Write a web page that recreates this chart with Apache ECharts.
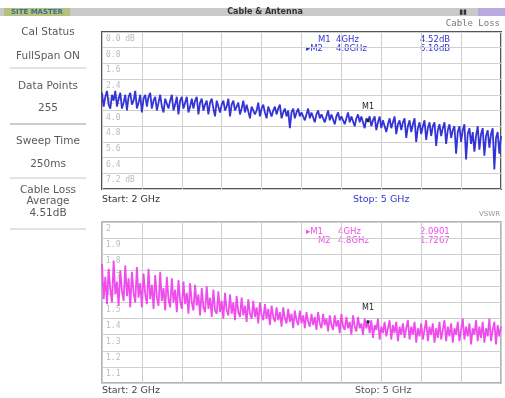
<!DOCTYPE html>
<html>
<head>
<meta charset="utf-8">
<script src="https://cdn.jsdelivr.net/npm/echarts@6/dist/echarts.min.js"></script>
<style>
  html, body { margin: 0; padding: 0; background: #fff; }
  #main { width: 505px; height: 398px; }
</style>
</head>
<body>
<div id="main"></div>
<script>
// 2 GHz .. 5 GHz, one grid line every 0.3 GHz
const freqTicks = ['2', '2.3', '2.6', '2.9', '3.2', '3.5', '3.8', '4.1', '4.4', '4.7', '5'];
// cable loss scale, 0.8 dB / div, drawn downwards
const lossTicks = ['0.0 dB', '0.8', '1.6', '2.4', '3.2', '4.0', '4.8', '5.6', '6.4', '7.2 dB'];
// VSWR scale, 0.1 / div
const vswrTicks = ['2', '1.9', '1.8', '1.7', '1.6', '1.5', '1.4', '1.3', '1.2', '1.1'];

// cable loss trace (dB), 2..5 GHz
const lossData = [
  3.1, 3.8, 3.3, 3.0, 3.7, 3.9, 3.2, 3.5, 3.0, 3.8,
  3.4, 3.1, 3.9, 3.6, 3.2, 4.0, 3.3, 3.1, 3.7, 3.5,
  3.0, 3.9, 3.6, 3.2, 4.1, 3.4, 3.2, 3.8, 3.3, 3.1,
  3.9, 3.5, 3.3, 4.0, 3.6, 3.2, 3.8, 4.1, 3.4, 3.3,
  3.9, 3.5, 3.2, 4.0, 3.7, 3.3, 4.2, 3.5, 3.3, 3.9,
  3.6, 3.3, 4.1, 3.8, 3.4, 3.9, 3.5, 3.3, 4.2, 3.6,
  3.4, 4.0, 3.7, 3.5, 4.2, 3.6, 3.4, 3.9, 4.3, 3.5,
  3.5, 4.1, 3.7, 3.5, 4.0, 3.8, 3.4, 4.3, 3.7, 3.5,
  4.0, 3.8, 3.6, 4.2, 3.9, 3.5, 4.1, 3.7, 3.6, 4.4,
  3.8, 3.7, 4.2, 4.0, 3.6, 4.3, 3.9, 3.7, 4.1, 4.4,
  3.8, 3.9, 4.3, 4.0, 3.8, 4.2, 3.9, 3.7, 4.4, 4.1,
  3.9, 4.3, 4.0, 4.9, 4.1, 3.9, 4.4, 4.1, 3.9, 4.3,
  4.1, 4.0, 4.5, 4.2, 3.9, 4.4, 4.1, 4.0, 4.6, 4.2,
  4.0, 4.4, 4.2, 4.1, 4.6, 4.3, 4.0, 4.5, 4.2, 4.1,
  4.7, 4.3, 4.1, 4.5, 4.3, 4.2, 4.7, 4.4, 4.1, 4.6,
  4.3, 4.2, 4.8, 4.4, 4.2, 4.6, 4.3, 4.2, 4.9, 4.4,
  4.52, 4.3, 4.8, 4.5, 4.3, 5.0, 4.6, 4.3, 4.9, 4.5,
  4.4, 5.1, 4.7, 4.4, 4.9, 4.6, 4.3, 5.2, 4.7, 4.5,
  5.0, 4.6, 4.4, 5.4, 4.8, 4.5, 5.1, 4.7, 4.4, 5.6,
  4.9, 4.6, 5.2, 4.8, 4.5, 5.5, 4.9, 4.6, 5.3, 4.8,
  4.6, 5.8, 5.0, 4.7, 5.3, 4.9, 4.6, 5.7, 5.0, 4.7,
  5.4, 5.0, 4.8, 6.2, 5.1, 4.8, 5.6, 5.0, 4.7, 6.5,
  5.2, 4.9, 5.7, 5.1, 6.10, 5.3, 4.8, 6.0, 5.2, 4.9,
  6.3, 5.3, 5.0, 5.9, 5.2, 4.9, 7.0, 5.4, 5.1, 6.2,
  5.3
];

// VSWR trace, 2..5 GHz
const vswrData = [
  1.74, 1.52, 1.66, 1.49, 1.71, 1.58, 1.50, 1.76, 1.55, 1.63,
  1.48, 1.70, 1.57, 1.51, 1.73, 1.54, 1.65, 1.47, 1.69, 1.56,
  1.50, 1.72, 1.53, 1.62, 1.47, 1.68, 1.55, 1.49, 1.71, 1.52,
  1.61, 1.46, 1.67, 1.53, 1.48, 1.69, 1.51, 1.59, 1.45, 1.66,
  1.52, 1.47, 1.65, 1.50, 1.58, 1.44, 1.64, 1.51, 1.46, 1.63,
  1.49, 1.56, 1.43, 1.62, 1.50, 1.45, 1.61, 1.48, 1.55, 1.42,
  1.59, 1.47, 1.44, 1.60, 1.46, 1.53, 1.41, 1.58, 1.45, 1.43,
  1.57, 1.44, 1.51, 1.40, 1.56, 1.45, 1.42, 1.55, 1.43, 1.50,
  1.39, 1.54, 1.44, 1.41, 1.53, 1.42, 1.48, 1.38, 1.52, 1.43,
  1.40, 1.51, 1.41, 1.47, 1.37, 1.50, 1.42, 1.39, 1.49, 1.40,
  1.46, 1.36, 1.48, 1.41, 1.38, 1.47, 1.39, 1.44, 1.35, 1.47,
  1.40, 1.37, 1.46, 1.38, 1.43, 1.34, 1.45, 1.39, 1.36, 1.45,
  1.37, 1.42, 1.34, 1.44, 1.38, 1.35, 1.43, 1.36, 1.41, 1.33,
  1.44, 1.37, 1.34, 1.43, 1.36, 1.40, 1.32, 1.42, 1.36, 1.33,
  1.42, 1.35, 1.39, 1.31, 1.43, 1.35, 1.33, 1.41, 1.34, 1.38,
  1.30, 1.42, 1.35, 1.32, 1.41, 1.34, 1.37, 1.30, 1.40, 1.34,
  1.38, 1.31, 1.39, 1.28, 1.36, 1.33, 1.40, 1.27, 1.35, 1.31,
  1.38, 1.29, 1.34, 1.39, 1.27, 1.36, 1.31, 1.38, 1.26, 1.35,
  1.30, 1.37, 1.28, 1.34, 1.39, 1.27, 1.35, 1.30, 1.38, 1.25,
  1.34, 1.29, 1.37, 1.27, 1.33, 1.39, 1.26, 1.35, 1.30, 1.37,
  1.25, 1.34, 1.28, 1.38, 1.27, 1.33, 1.39, 1.26, 1.35, 1.29,
  1.37, 1.25, 1.34, 1.30, 1.38, 1.26, 1.33, 1.40, 1.27, 1.35,
  1.29, 1.37, 1.24, 1.34, 1.30, 1.39, 1.26, 1.35, 1.28, 1.38,
  1.25, 1.34, 1.29, 1.40, 1.26, 1.33, 1.38, 1.24, 1.36, 1.29,
  1.35
];

// markers: index into the traces (4 GHz, 4.8 GHz), readout texts
const markerIdx = [160, 224];
const markerFreqs = ['4GHz', '4.8GHz'];
const lossMarkers = ['4.52dB', '6.10dB'];
const vswrMarkers = ['2.0901', '1.7267'];

// left status panel
const sideLabels = ['Cal Status', 'FullSpan ON', 'Data Points', '255', 'Sweep Time', '250ms', 'Cable Loss', 'Average', '4.51dB'];

const BLUE = '#3434d6';
const PINK = '#ee4cec';
const FONT = 'DejaVu Sans';

const chart = echarts.init(document.getElementById('main'));
const cats = lossData.map((_, i) => i);
const step = (cats.length - 1) / (freqTicks.length - 1);

function xAxisFor(gridIndex) {
  return {
    type: 'category', gridIndex: gridIndex, data: cats, boundaryGap: false,
    axisLine: { show: false }, axisTick: { show: false }, axisLabel: { show: false },
    splitLine: { show: true, interval: (i) => i % step === 0, lineStyle: { color: '#cfcfcf', width: 1 } }
  };
}

function txt(x, y, text, opt) {
  return {
    type: 'text', x: x, y: y, silent: true,
    style: Object.assign({ text: text, fontFamily: FONT, fontSize: 9, fill: '#555', align: 'left', verticalAlign: 'middle' }, opt || {})
  };
}

const graphics = [];
// top status bar
graphics.push({ type: 'rect', shape: { x: 0, y: 8, width: 505, height: 8 }, style: { fill: '#c9c9c9' } });
graphics.push({ type: 'rect', shape: { x: 4, y: 8, width: 66, height: 8 }, style: { fill: '#b7c07a' } });
graphics.push(txt(37, 12, 'SITE MASTER', { align: 'center', fontSize: 7, fontWeight: 'bold', fill: '#3a6e9a' }));
graphics.push(txt(265, 12, 'Cable & Antenna', { align: 'center', fontSize: 8, fontWeight: 'bold', fill: '#333' }));
graphics.push({ type: 'rect', shape: { x: 478, y: 8, width: 27, height: 8 }, style: { fill: '#b8a9de' } });
graphics.push(txt(463, 12, '▮▮', { align: 'center', fontSize: 7, fill: '#333' }));

// left panel
const sideY = [32, 56, 86, 108, 141, 164, 190, 201, 213];
sideLabels.forEach((s, i) => {
  graphics.push(txt(48, sideY[i], s, { align: 'center', fontSize: 10.5, fill: '#5a5a5a' }));
});
[68, 124, 178, 229].forEach((y, i) => {
  graphics.push({ type: 'line', shape: { x1: 10, y1: y, x2: 86, y2: y }, style: { stroke: i === 1 ? '#bbb' : '#d8d8d8', lineWidth: 1.5 } });
});

// top chart annotations
graphics.push(txt(500, 24, 'Cable Loss', { align: 'right', fontSize: 9, fill: '#777', fontFamily: 'DejaVu Sans Mono' }));
graphics.push(txt(318, 40, 'M1', { fill: BLUE, fontSize: 8.5 }));
graphics.push(txt(306, 49, '▸M2', { fill: BLUE, fontSize: 8.5 }));
markerFreqs.forEach((f, i) => {
  graphics.push(txt(336, 40 + i * 9, f, { fill: BLUE, fontSize: 8.5 }));
  graphics.push(txt(420, 40 + i * 9, lossMarkers[i], { fill: BLUE, fontSize: 8.5 }));
});
graphics.push(txt(102, 200, 'Start: 2 GHz', { fill: '#333', fontSize: 9.5 }));
graphics.push(txt(353, 200, 'Stop: 5 GHz', { fill: BLUE, fontSize: 9.5 }));

// bottom chart annotations
graphics.push(txt(500, 214, 'VSWR', { align: 'right', fontSize: 7, fill: '#999' }));
graphics.push(txt(306, 232, '▸M1', { fill: PINK, fontSize: 8.5 }));
graphics.push(txt(318, 241, 'M2', { fill: PINK, fontSize: 8.5 }));
markerFreqs.forEach((f, i) => {
  graphics.push(txt(338, 232 + i * 9, f, { fill: PINK, fontSize: 8.5 }));
  graphics.push(txt(420, 232 + i * 9, vswrMarkers[i], { fill: PINK, fontSize: 8.5 }));
});
graphics.push(txt(102, 391, 'Start: 2 GHz', { fill: '#444', fontSize: 9.5 }));
graphics.push(txt(355, 391, 'Stop: 5 GHz', { fill: '#555', fontSize: 9.5 }));

function markerPoint(data) {
  return {
    symbol: 'rect', symbolSize: [3, 3],
    itemStyle: { color: '#222' },
    label: { show: true, position: 'top', distance: 8, formatter: 'M1', color: '#222', fontSize: 8, fontFamily: FONT },
    data: [{ coord: [markerIdx[0], data[markerIdx[0]]] }]
  };
}

const option = {
  animation: false,
  backgroundColor: '#fff',
  grid: [
    { left: 102, top: 32, width: 399, height: 157, show: true, borderColor: '#555', borderWidth: 2, backgroundColor: '#fff' },
    { left: 102, top: 222, width: 399, height: 161, show: true, borderColor: '#999', borderWidth: 1.5, backgroundColor: '#fff' }
  ],
  xAxis: [xAxisFor(0), xAxisFor(1)],
  yAxis: [
    {
      type: 'value', gridIndex: 0, min: 0, max: 8, interval: 0.8, inverse: true,
      axisLine: { show: false }, axisTick: { show: false },
      axisLabel: {
        inside: true, margin: 4, showMaxLabel: false, verticalAlign: 'top', padding: [3, 0, 0, 0],
        color: '#bbb', fontSize: 8, fontFamily: 'DejaVu Sans Mono',
        formatter: (v) => lossTicks[Math.round(v / 0.8)] || ''
      },
      splitLine: { show: true, lineStyle: { color: '#cfcfcf', width: 1 } }
    },
    {
      type: 'value', gridIndex: 1, min: 1, max: 2, interval: 0.1,
      axisLine: { show: false }, axisTick: { show: false },
      axisLabel: {
        inside: true, margin: 4, showMinLabel: false, verticalAlign: 'top', padding: [3, 0, 0, 0],
        color: '#bbb', fontSize: 8, fontFamily: 'DejaVu Sans Mono',
        formatter: (v) => vswrTicks[Math.round((2 - v) / 0.1)] || ''
      },
      splitLine: { show: true, lineStyle: { color: '#cfcfcf', width: 1 } }
    }
  ],
  series: [
    {
      type: 'line', xAxisIndex: 0, yAxisIndex: 0, data: lossData,
      showSymbol: false, lineStyle: { color: BLUE, width: 1.8 },
      markPoint: markerPoint(lossData)
    },
    {
      type: 'line', xAxisIndex: 1, yAxisIndex: 1, data: vswrData,
      showSymbol: false, lineStyle: { color: PINK, width: 1.8 },
      markPoint: markerPoint(vswrData)
    }
  ],
  graphic: graphics
};

chart.setOption(option);
</script>
</body>
</html>
